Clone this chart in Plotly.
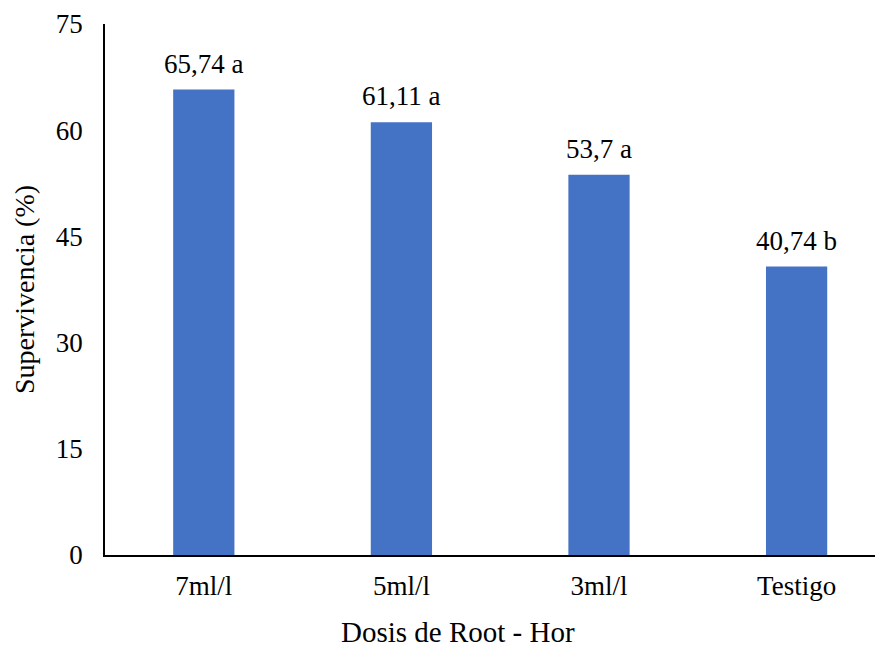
import plotly.graph_objects as go

categories = ["7ml/l", "5ml/l", "3ml/l", "Testigo"]
values = [65.74, 61.11, 53.7, 40.74]
labels = ["65,74 a", "61,11 a", "53,7 a", "40,74 b"]
y_ticks = [0, 15, 30, 45, 60, 75]
x_title = "Dosis de Root - Hor"
y_title = "Supervivencia (%)"

FONT = "Times New Roman, Liberation Serif, DejaVu Serif, serif"
PAGE_OFF = 8  # default body margin of the page
W, H = 883 - PAGE_OFF, 650 - PAGE_OFF
left, top = 104.6 - PAGE_OFF, 24 - PAGE_OFF
bottom = H - (555 - PAGE_OFF)
spacing = 197.7
x_end = -0.5 + (W - left) / spacing
plot_w = W - left

fig = go.Figure()
fig.add_trace(go.Bar(
    x=list(range(len(categories))), y=values,
    marker=dict(color="#4472C4", line=dict(width=0)),
    width=0.31, hoverinfo="skip",
))
for i, (v, t) in enumerate(zip(values, labels)):
    fig.add_annotation(x=i, y=v, text=t, showarrow=False, yanchor="bottom",
                       yshift=9, font=dict(family=FONT, size=27, color="black"))

# x-axis title (centred on the chart area as in the reference)
fig.add_annotation(xref="paper", yref="paper", x=(457.5 - PAGE_OFF - left) / plot_w, y=0,
                   xanchor="center", yanchor="middle", yshift=-77, showarrow=False,
                   borderpad=0,
                   text=x_title, font=dict(family=FONT, size=29, color="black"))

fig.update_layout(
    width=W, height=H,
    margin=dict(l=left, r=0, t=top, b=bottom, pad=0),
    plot_bgcolor="white", paper_bgcolor="white",
    showlegend=False,
    font=dict(family=FONT, size=27, color="black"),
    xaxis=dict(
        tickmode="array", tickvals=list(range(len(categories))), ticktext=categories,
        range=[-0.5, x_end], showgrid=False, zeroline=False, automargin=False,
        showline=True, linecolor="black", linewidth=1.5,
        ticks="", ticklabelstandoff=6,
        tickfont=dict(family=FONT, size=27),
    ),
    yaxis=dict(
        range=[0, 75], tickvals=y_ticks, showgrid=False, zeroline=False, automargin=False,
        showline=True, linecolor="black", linewidth=1.5,
        ticks="", ticklabelstandoff=15,
        tickfont=dict(family=FONT, size=27),
        title=dict(text=y_title, font=dict(family=FONT, size=28), standoff=13),
    ),
)

fig.write_html("out.html")
